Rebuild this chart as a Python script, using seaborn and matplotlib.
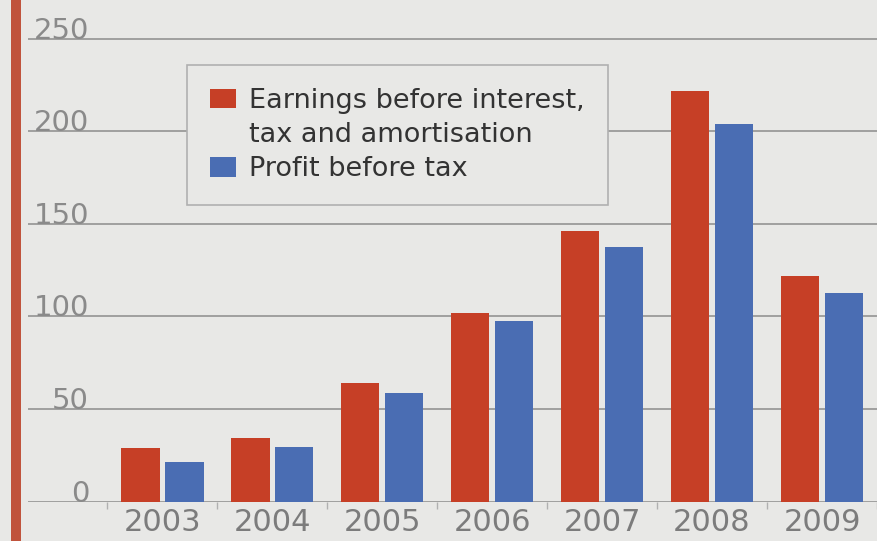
import numpy as np
import pandas as pd
import matplotlib
matplotlib.use("Agg")
import matplotlib.pyplot as plt
import seaborn as sns
from matplotlib.patches import Rectangle, Patch

years = ["2003", "2004", "2005", "2006", "2007", "2008", "2009"]
ebita = [29, 34.5, 64, 102, 146, 222, 122]
pbt = [21.5, 29.5, 58.5, 97.5, 137.5, 204, 112.5]
series_names = ["Earnings before interest, tax and amortisation", "Profit before tax"]
legend_lines = ["Earnings before interest,", "tax and amortisation", "Profit before tax"]
y_ticks = [0, 50, 100, 150, 200, 250]

df = pd.DataFrame({
    "year": years * 2,
    "value": ebita + pbt,
    "series": [series_names[0]] * len(years) + [series_names[1]] * len(years),
})

bg = "#e8e8e6"
red = "#c63f26"
blue = "#4a6db3"

sns.set_theme(style="white")
plt.rcParams["font.family"] = ["DejaVu Sans"]

fig = plt.figure(figsize=(8.77, 5.41), dpi=100, facecolor=bg)
ax = fig.add_axes([28 / 877, 39.5 / 541, 1 - 28 / 877, 501.5 / 541])
ax.set_facecolor(bg)

sns.barplot(data=df, x="year", y="value", hue="series", hue_order=series_names,
            palette=[red, blue], width=0.8, gap=0.12, saturation=1,
            ax=ax, zorder=3, edgecolor="none", legend=False)

ax.set_xlim(-1.22, 6.43)
ax.set_ylim(0, 271)
ax.set_yticks(y_ticks)
ax.set_yticklabels([str(v) for v in y_ticks])
for s in ax.spines.values():
    s.set_visible(False)
ax.grid(axis="y", color="#939393", linewidth=1.2, zorder=1)
ax.grid(axis="x", visible=False)
ax.set_xlabel("")
ax.set_ylabel("")

ax.tick_params(axis="y", length=0, pad=-44, labelsize=21, labelcolor="#8a8a8a")
for lab in ax.get_yticklabels():
    lab.set_horizontalalignment("right")
    lab.set_verticalalignment("baseline")
ax.tick_params(axis="x", which="major", length=0, pad=5, labelsize=22, labelcolor="#7c7c7c")
ax.set_xticks(np.arange(-0.5, len(years)), minor=True)
ax.tick_params(axis="x", which="minor", length=5, width=1, color="#b0b0b0", bottom=True)

handles = [Patch(facecolor=red, edgecolor="none"),
           Patch(facecolor="none", edgecolor="none"),
           Patch(facecolor=blue, edgecolor="none")]
leg = ax.legend(handles, legend_lines, loc="upper left", bbox_to_anchor=(0.187, 0.870),
                borderaxespad=0, fontsize=19.5, frameon=True, fancybox=False,
                handlelength=0.95, handleheight=0.72, handletextpad=0.5,
                labelspacing=0.3, borderpad=0.85, labelcolor="#333333")
leg.get_frame().set_facecolor(bg)
leg.get_frame().set_edgecolor("#b0b0b0")
leg.get_frame().set_linewidth(1.2)
leg.get_frame().set_alpha(1)

fig.add_artist(Rectangle((11 / 877, 0), 10 / 877, 1, transform=fig.transFigure,
                         facecolor="#c0533c", edgecolor="none"))

fig.savefig("out.png", dpi=100, facecolor=bg)
